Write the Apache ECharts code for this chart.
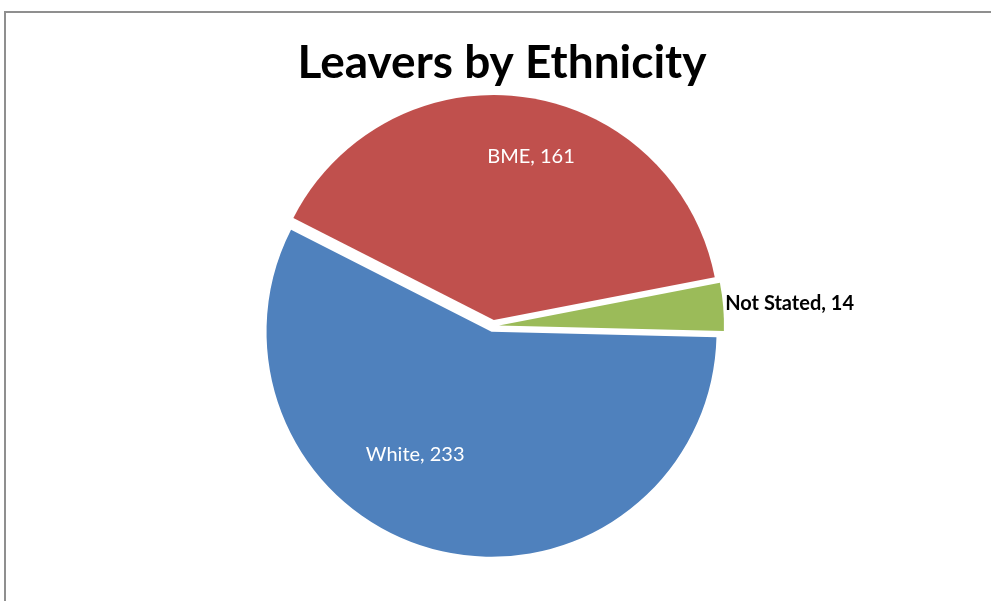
<!DOCTYPE html>
<html>
<head>
<meta charset="utf-8">
<script src="https://cdn.jsdelivr.net/npm/echarts@6/dist/echarts.min.js"></script>
<style>
  html, body { margin: 0; padding: 0; background: #ffffff; }
  #chart { width: 991px; height: 601px; }
</style>
</head>
<body>
<div id="chart"></div>
<script>
// Leavers grouped by ethnicity
const categories = ['BME', 'Not Stated', 'White'];
const values = [161, 14, 233];
const colors = ['#C0504D', '#9BBB59', '#4F81BD'];
const labelOnSlice = [true, false, true];
// nudges for the data labels, in pixels
const labelNudge = [[21, -49], [-3, -3], [-48, 11]];

const chart = echarts.init(document.getElementById('chart'));

const data = categories.map((name, i) => ({
  name: name,
  value: values[i],
  selected: true,
  itemStyle: { color: colors[i] },
  label: labelOnSlice[i]
    ? { position: 'inside', color: '#ffffff' }
    : { position: 'outside', color: '#000000', fontWeight: 'bold' },
  labelLine: { show: false, length: 0, length2: 0 }
}));

chart.setOption({
  animation: false,
  title: {
    text: 'Leavers by Ethnicity',
    left: 497,
    top: 35,
    textAlign: 'center',
    textStyle: {
      fontFamily: 'Lato',
      fontWeight: 'bold',
      fontSize: 46,
      color: '#000000'
    }
  },
  graphic: [{
    type: 'rect',
    shape: { x: 5, y: 12, width: 1100, height: 800 },
    style: { fill: 'none', stroke: '#8f8f8f', lineWidth: 2 },
    silent: true
  }],
  series: [{
    type: 'pie',
    center: [493, 326],
    radius: 225,
    startAngle: 153,
    clockwise: true,
    selectedMode: 'multiple',
    selectedOffset: 6,
    avoidLabelOverlap: false,
    emphasis: { disabled: true },
    label: {
      show: true,
      formatter: '{b}, {c}',
      fontFamily: 'Lato',
      fontSize: 20
    },
    labelLayout: function (params) {
      const n = labelNudge[params.dataIndex];
      return { dx: n[0], dy: n[1] };
    },
    data: data
  }]
});
</script>
</body>
</html>
